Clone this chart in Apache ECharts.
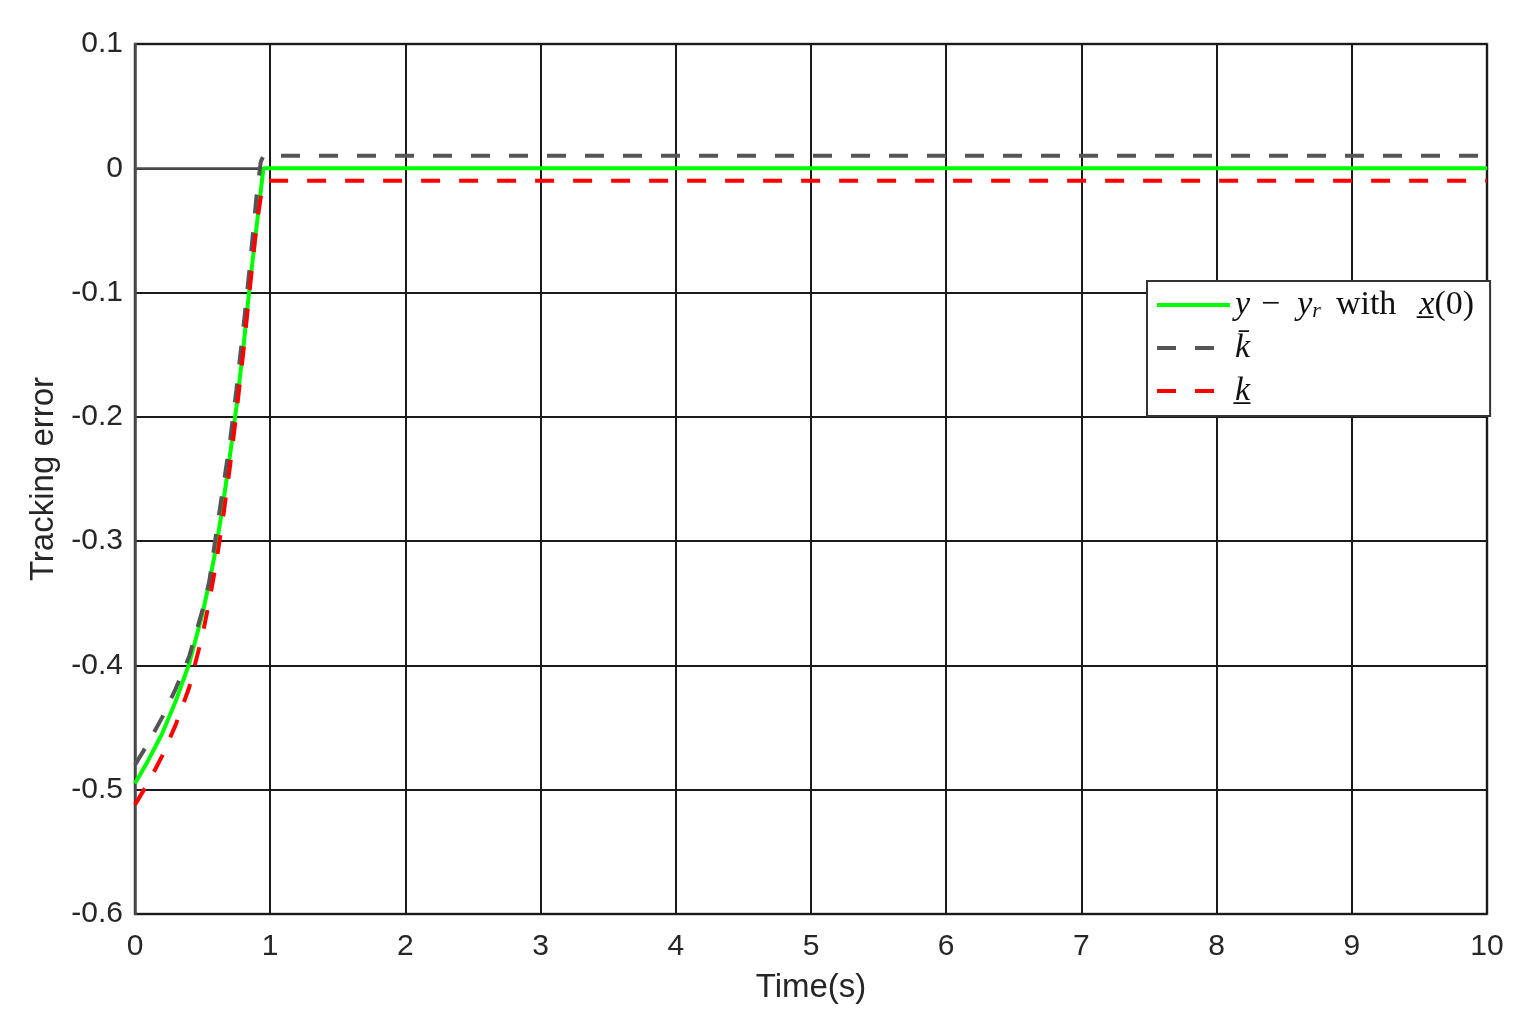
<!DOCTYPE html>
<html>
<head>
<meta charset="utf-8">
<script src="https://cdn.jsdelivr.net/npm/echarts@6/dist/echarts.min.js"></script>
<style>
html,body{margin:0;padding:0;background:#fff;}
#chart{width:1522px;height:1028px;}
</style>
</head>
<body>
<div id="chart"></div>
<script>
// ---- data ----
const xTicks = [0,1,2,3,4,5,6,7,8,9,10];
const yTicks = [0.1,0,-0.1,-0.2,-0.3,-0.4,-0.5,-0.6];

const tGreen = [0, 0.1, 0.2, 0.3, 0.4, 0.5, 0.55, 0.6, 0.65, 0.7, 0.75, 0.8, 0.85, 0.9, 0.95, 10];
const vGreen = [-0.495, -0.476, -0.455, -0.429, -0.399, -0.358, -0.333, -0.305, -0.271, -0.233, -0.192, -0.146, -0.093, -0.046, 0, 0];

const tUpper = [0, 0.1, 0.2, 0.3, 0.4, 0.5, 0.55, 0.6, 0.65, 0.7, 0.75, 0.8, 0.85, 0.9, 0.93, 0.95, 10];
const vUpper = [-0.480, -0.462, -0.442, -0.419, -0.393, -0.355, -0.332, -0.294, -0.258, -0.222, -0.178, -0.130, -0.078, -0.021, 0.005, 0.01, 0.01];

const tLower = [0, 0.1, 0.2, 0.3, 0.4, 0.5, 0.55, 0.6, 0.65, 0.7, 0.75, 0.8, 0.85, 0.9, 0.94, 0.97, 10];
const vLower = [-0.512, -0.494, -0.473, -0.448, -0.418, -0.375, -0.348, -0.318, -0.282, -0.242, -0.197, -0.149, -0.096, -0.045, -0.016, -0.01, -0.01];

const names = ['green', 'upper', 'lower'];

function pairs(t, v){ return t.map((x,i)=>[x, v[i]]); }

const chart = echarts.init(document.getElementById('chart'), null, {renderer:'canvas'});
const sans = 'Liberation Sans, Arial, sans-serif';
const serif = 'Liberation Serif, serif';
const axisFont = {fontFamily:sans, fontSize:30, color:'#262626'};

const option = {
  backgroundColor:'#fff',
  animation:false,
  grid:{left:135, right:35, top:44, bottom:114, show:true, borderColor:'#4d4d4d', borderWidth:2.5, backgroundColor:'transparent'},
  xAxis:{
    type:'value', min:0, max:10, interval:1,
    name:'Time(s)', nameLocation:'middle', nameGap:57,
    nameTextStyle:{fontFamily:sans, fontSize:33, color:'#262626'},
    axisLine:{show:true, lineStyle:{color:'#4d4d4d', width:2.5}},
    axisTick:{show:false},
    axisLabel:Object.assign({margin:18, formatter:v=>String(Math.round(v))}, axisFont),
    splitLine:{show:true, lineStyle:{color:'#1a1a1a', width:2}}
  },
  yAxis:{
    type:'value', min:-0.6, max:0.1, interval:0.1,
    name:'Tracking error', nameLocation:'middle', nameGap:72, nameRotate:90,
    nameTextStyle:{fontFamily:sans, fontSize:33, color:'#262626'},
    axisLine:{show:true, lineStyle:{color:'#4d4d4d', width:2.5}},
    axisTick:{show:false},
    axisLabel:Object.assign({margin:12, formatter:v=>{const r=Math.round(v*10)/10; return r===0?'0':r.toFixed(1);}}, axisFont),
    splitLine:{show:true, lineStyle:{color:'#1a1a1a', width:2}}
  },
  legend:{
    orient:'vertical', left:1147, top:281,
    backgroundColor:'#fff', borderColor:'#333', borderWidth:2,
    padding:[7,16,8,8], itemGap:9, itemWidth:73, itemHeight:28,
    itemStyle:{color:'rgba(0,0,0,0)', borderColor:'rgba(0,0,0,0)', borderWidth:0},
    lineStyle:{width:4},
    data:names,
    formatter:function(n){
      if(n==='green') return '{i|y}{m|\u2212}{i|y}{s|r}{w|with}{i|x\u0332}{n|(0)}';
      if(n==='upper') return '{i|k\u0304}';
      return '{i|k\u0332}';
    },
    textStyle:{
      fontFamily:serif, fontSize:32, color:'#111',
      rich:{
        i:{fontFamily:serif, fontStyle:'italic', fontSize:34, color:'#111', lineHeight:34},
        n:{fontFamily:serif, fontSize:34, color:'#111', lineHeight:34},
        m:{fontFamily:serif, fontSize:34, color:'#111', lineHeight:34, padding:[0,17,0,11]},
        w:{fontFamily:serif, fontSize:34, color:'#111', lineHeight:34, padding:[0,23,0,15]},
        s:{fontFamily:serif, fontStyle:'italic', fontSize:22, color:'#111', verticalAlign:'bottom', lineHeight:18}
      }
    }
  },
  series:[
    {name:'green', type:'line', data:pairs(tGreen,vGreen), showSymbol:false, symbol:'none', z:3,
     lineStyle:{color:'#00ff00', width:4}, itemStyle:{color:'#00ff00'}},
    {name:'upper', type:'line', data:pairs(tUpper,vUpper), showSymbol:false, symbol:'none', z:4,
     lineStyle:{color:'#555555', width:4, type:[19,19]}, itemStyle:{color:'#555555'}},
    {name:'lower', type:'line', data:pairs(tLower,vLower), showSymbol:false, symbol:'none', z:4,
     lineStyle:{color:'#ff0000', width:4, type:[19,19]}, itemStyle:{color:'#ff0000'}}
  ]
};
chart.setOption(option);
</script>
</body>
</html>
